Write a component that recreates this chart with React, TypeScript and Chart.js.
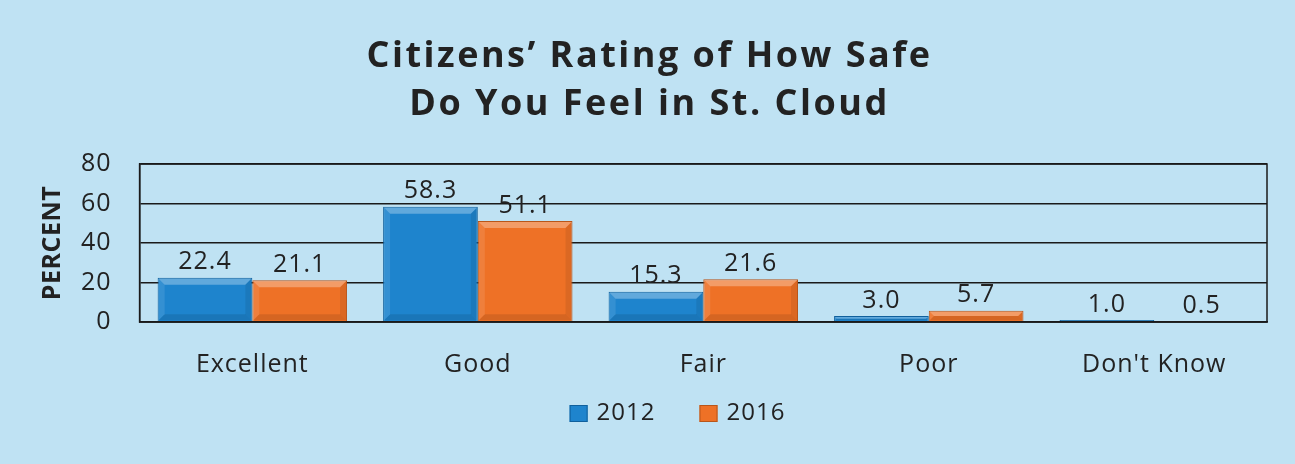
import React, { useEffect, useRef } from "react";
import { Chart, registerables } from "chart.js";

Chart.register(...registerables);

const categories = ["Excellent", "Good", "Fair", "Poor", "Don't Know"];
const series2012 = [22.4, 58.3, 15.3, 3.0, 1.0];
const series2016 = [21.1, 51.1, 21.6, 5.7, 0.5];
const seriesLabels = ["2012", "2016"];
const seriesColors = ["#1e84cd", "#ee7126"];
const seriesBorders = ["#10609c", "#b8561a"];
const titleLines = ["Citizens\u2019 Rating of How Safe", "Do You Feel in St. Cloud"];
const yTitle = "PERCENT";

const FONT = "'Open Sans', Lato, sans-serif";
const TEXT = "#222";

const bevel = {
  id: "bevel",
  afterDatasetsDraw(chart: any) {
    const { ctx } = chart;
    ctx.save();
    chart.data.datasets.forEach((_: any, i: number) => {
      chart.getDatasetMeta(i).data.forEach((bar: any) => {
        const l = bar.x - bar.width / 2 + 1;
        const r = bar.x + bar.width / 2 - 1;
        const t = bar.y + 1;
        const b = bar.base - 1;
        const h = b - t;
        if (h <= 1) return;
        const d = Math.min(6, h / 2);
        ctx.fillStyle = "rgba(255,255,255,0.3)";
        ctx.beginPath();
        ctx.moveTo(l, t); ctx.lineTo(r, t); ctx.lineTo(r - d, t + d); ctx.lineTo(l + d, t + d);
        ctx.closePath(); ctx.fill();
        ctx.fillStyle = "rgba(255,255,255,0.1)";
        ctx.beginPath();
        ctx.moveTo(l, t); ctx.lineTo(l + d, t + d); ctx.lineTo(l + d, b - d); ctx.lineTo(l, b);
        ctx.closePath(); ctx.fill();
        ctx.fillStyle = "rgba(0,0,0,0.08)";
        ctx.beginPath();
        ctx.moveTo(r, t); ctx.lineTo(r - d, t + d); ctx.lineTo(r - d, b - d); ctx.lineTo(r, b);
        ctx.closePath(); ctx.fill();
        ctx.fillStyle = "rgba(0,0,0,0.1)";
        ctx.beginPath();
        ctx.moveTo(l, b); ctx.lineTo(l + d, b - d); ctx.lineTo(r - d, b - d); ctx.lineTo(r, b);
        ctx.closePath(); ctx.fill();
      });
    });
    ctx.restore();
  },
};

const decorations = {
  id: "decorations",
  beforeDraw(chart: any) {
    (chart.ctx as any).letterSpacing = "1px";
  },
  afterDraw(chart: any) {
    const { ctx, chartArea } = chart;
    ctx.save();
    ctx.strokeStyle = "#1a1a1a";
    ctx.lineWidth = 1.5;
    ctx.strokeRect(chartArea.left, chartArea.top, chartArea.right - chartArea.left, chartArea.bottom - chartArea.top);
    (ctx as any).letterSpacing = "1px";
    ctx.font = `25px ${FONT}`;
    ctx.fillStyle = TEXT;
    ctx.textAlign = "center";
    ctx.textBaseline = "bottom";
    chart.data.datasets.forEach((ds: any, i: number) => {
      const meta = chart.getDatasetMeta(i);
      meta.data.forEach((bar: any, j: number) => {
        ctx.fillText(Number(ds.data[j]).toFixed(1), bar.x, bar.y - 3);
      });
    });
    ctx.save();
    (ctx as any).letterSpacing = "0.5px";
    ctx.font = `bold 25px ${FONT}`;
    ctx.translate(53, (chartArea.top + chartArea.bottom) / 2);
    ctx.rotate(-Math.PI / 2);
    ctx.textBaseline = "middle";
    ctx.fillText(yTitle, 0, 0);
    ctx.restore();
    (ctx as any).letterSpacing = "1px";
    ctx.font = `24px ${FONT}`;
    ctx.textAlign = "left";
    ctx.textBaseline = "middle";
    const box = 18, gapBoxText = 9, gapItems = 44;
    const widths = seriesLabels.map((l) => box + gapBoxText + ctx.measureText(l).width);
    const total = widths.reduce((a, b) => a + b, 0) + gapItems * (widths.length - 1);
    let x = chart.width / 2 + 30 - total / 2;
    const ly = 413;
    seriesLabels.forEach((l, i) => {
      ctx.fillStyle = seriesColors[i];
      ctx.strokeStyle = seriesBorders[i];
      ctx.lineWidth = 1;
      ctx.fillRect(x, ly - box / 2 + 1, box, box - 1);
      ctx.strokeRect(x + 0.5, ly - box / 2 + 1.5, box - 1, box - 2);
      ctx.fillStyle = TEXT;
      ctx.fillText(l, x + box + gapBoxText, ly);
      x += widths[i] + gapItems;
    });
    ctx.font = `bold 36px ${FONT}`;
    (ctx as any).letterSpacing = "2.5px";
    ctx.textAlign = "center";
    ctx.textBaseline = "middle";
    const cx = chart.width / 2 + 2;
    ctx.fillText(titleLines[0], cx, 57);
    ctx.fillText(titleLines[1], cx, 105);
    ctx.restore();
  },
};

export default function App() {
  const ref = useRef<HTMLCanvasElement>(null);
  useEffect(() => {
    document.body.style.margin = "0";
    const chart = new Chart(ref.current!, {
      type: "bar",
      data: {
        labels: categories,
        datasets: seriesLabels.map((label, i) => ({
          label,
          data: i === 0 ? series2012 : series2016,
          backgroundColor: seriesColors[i],
          borderColor: seriesBorders[i],
          borderWidth: 1,
          categoryPercentage: 0.84,
          barPercentage: 1.0,
        })),
      },
      plugins: [bevel, decorations],
      options: {
        responsive: false,
        animation: false,
        layout: { padding: { left: 55, right: 28, top: 164, bottom: 56 } },
        plugins: {
          title: { display: false },
          legend: { display: false },
          tooltip: { enabled: false },
        },
        scales: {
          x: {
            grid: { display: false, drawTicks: false },
            border: { display: true, color: "#1a1a1a", width: 1.5 },
            ticks: { color: TEXT, font: { family: FONT, size: 25 }, padding: 28 },
          },
          y: {
            min: 0,
            max: 80,
            ticks: { stepSize: 20, color: TEXT, font: { family: FONT, size: 25 }, padding: 28 },
            grid: { color: "#1a1a1a", lineWidth: 1.5, drawTicks: false },
            border: { display: true, color: "#1a1a1a", width: 1.5 },
          },
        },
      },
    });
    return () => chart.destroy();
  }, []);
  return (
    <div style={{ width: 1295, height: 464, background: "#bfe2f3" }}>
      <canvas ref={ref} width={1295} height={464} style={{ display: "block" }} />
    </div>
  );
}
